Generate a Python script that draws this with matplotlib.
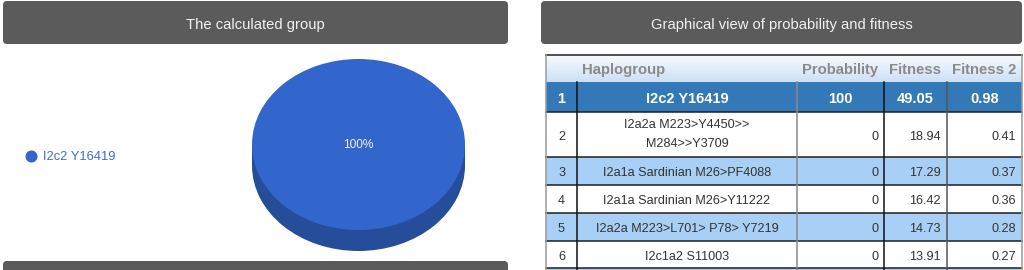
import matplotlib
matplotlib.use("Agg")
import matplotlib.pyplot as plt
import numpy as np
from matplotlib.patches import FancyBboxPatch, Rectangle

plt.rcParams['font.family'] = ['Liberation Sans', 'DejaVu Sans']

# ---------------- data ----------------
panel_titles = ["The calculated group", "Graphical view of probability and fitness"]
legend_labels = ["I2c2 Y16419"]
pie_values = [100]
columns = ["Haplogroup", "Probability", "Fitness", "Fitness 2"]
ranks = [1, 2, 3, 4, 5, 6]
haplogroups = ["I2c2 Y16419", "I2a2a M223>Y4450>>\nM284>>Y3709", "I2a1a Sardinian M26>PF4088",
               "I2a1a Sardinian M26>Y11222", "I2a2a M223>L701> P78> Y7219", "I2c1a2 S11003"]
probability = [100, 0, 0, 0, 0, 0]
fitness = [49.05, 18.94, 17.29, 16.42, 14.73, 13.91]
fitness2 = [0.98, 0.41, 0.37, 0.36, 0.28, 0.27]

# ---------------- styles ----------------
W, H = 1024, 270
HEAD_BG = "#5b5b5b"
PIE_TOP = "#3366cc"
PIE_SIDE = "#264d99"
ROW1_BG = "#3479b7"
ALT_BG = "#a8d0f6"
VA = "center_baseline"

fig = plt.figure(figsize=(W / 100, H / 100), dpi=100)
ax = fig.add_axes([0, 0, 1, 1])
ax.set_xlim(0, W)
ax.set_ylim(H, 0)
ax.axis("off")

# panel headers
for (x0, x1), title in zip([(3, 508), (541, 1022)], panel_titles):
    ax.add_patch(FancyBboxPatch((x0, 1), x1 - x0, 43, boxstyle="round,pad=0,rounding_size=4",
                                fc=HEAD_BG, ec="none"))
    ax.text((x0 + x1) / 2, 23, title, color="#f2f2f2", fontsize=10.6, ha="center", va=VA)

# bottom bar of left panel
ax.add_patch(FancyBboxPatch((3, 261), 505, 20, boxstyle="round,pad=0,rounding_size=4",
                            fc=HEAD_BG, ec="none"))

# legend
ax.scatter([31], [155.5], s=75, color=PIE_TOP, zorder=3, linewidths=0)
ax.text(43, 156, legend_labels[0], color="#3a6fcf", fontsize=9.3, ha="left", va=VA)

# ---------------- 3D pie ----------------
px0, px1, ptop, pbot = 252, 465, 59, 251
depth = 21 / 85.5
pax = fig.add_axes([px0 / W, (H - pbot) / H, (px1 - px0) / W, (pbot - ptop) / H])
pax.pie(pie_values, colors=[PIE_SIDE], center=(0, -depth), radius=1, startangle=90,
        counterclock=False, wedgeprops=dict(linewidth=0))
pax.add_patch(Rectangle((-1, -depth), 2, depth, fc=PIE_SIDE, ec="none"))
pax.pie(pie_values, colors=[PIE_TOP], center=(0, 0), radius=1, startangle=90, counterclock=False,
        autopct=lambda p: f"{p:.0f}%", pctdistance=0.0,
        textprops=dict(color="#f4f4f4", fontsize=8.6), wedgeprops=dict(linewidth=0))
pax.set_aspect("auto")
pax.set_xlim(-1, 1)
pax.set_ylim(-1 - depth, 1)
pax.axis("off")

# ---------------- table ----------------
col_x = [546, 577, 797, 884, 947, 1022]
row_y = [82, 112, 157, 185, 213, 241, 268]
tbl_top = 55

# header gradient
grad = np.linspace(0, 1, 64).reshape(-1, 1)
top_c = np.array([0.97, 0.985, 1.0])
bot_c = np.array([0.80, 0.88, 0.96])
img = top_c + (bot_c - top_c) * grad[..., None]
ax.imshow(img, extent=(col_x[0], col_x[-1], row_y[0], tbl_top), aspect="auto", zorder=1)
ax.set_xlim(0, W)
ax.set_ylim(H, 0)

hy = (tbl_top + row_y[0]) / 2
ax.text(col_x[1] + 5, hy, columns[0], color="#8a8a8a", fontsize=10.7, fontweight="bold",
        ha="left", va=VA, zorder=3)
for c, name in enumerate(columns[1:]):
    ax.text(col_x[c + 3] - 6, hy, name, color="#8a8a8a", fontsize=10.7, fontweight="bold",
            ha="right", va=VA, zorder=3)

row_bounds = list(zip(row_y[:-1], row_y[1:])) + [(row_y[-1], 290)]
for i, (y0, y1) in enumerate(row_bounds):
    if i == 0:
        bg = ROW1_BG
    elif i % 2 == 0:
        bg = ALT_BG
    else:
        bg = "white"
    ax.add_patch(Rectangle((col_x[0], y0), col_x[-1] - col_x[0], y1 - y0, fc=bg, ec="none", zorder=1))

for i, r in enumerate(ranks):
    y0, y1 = row_bounds[i]
    yc = (y0 + y1) / 2 + 0.5
    if i == 0:
        kw = dict(color="white", fontsize=10.5, fontweight="bold")
        ax.text((col_x[0] + col_x[1]) / 2, yc, str(r), ha="center", va=VA, zorder=3, **kw)
        ax.text((col_x[1] + col_x[2]) / 2, yc, haplogroups[i], ha="center", va=VA, zorder=3, **kw)
        for c, v in enumerate([probability[i], f"{fitness[i]:.2f}", f"{fitness2[i]:.2f}"]):
            ax.text((col_x[c + 2] + col_x[c + 3]) / 2, yc, str(v), ha="center", va=VA,
                    zorder=3, **kw)
    else:
        kw = dict(color="#333333", fontsize=9.1)
        ax.text((col_x[0] + col_x[1]) / 2, yc, str(r), ha="center", va=VA, zorder=3, **kw)
        if "\n" in haplogroups[i]:
            ax.text((col_x[1] + col_x[2]) / 2, yc - 0.5, haplogroups[i], ha="center", va="center",
                    linespacing=1.7, zorder=3, **kw)
        else:
            ax.text((col_x[1] + col_x[2]) / 2, yc, haplogroups[i], ha="center", va=VA,
                    zorder=3, **kw)
        for c, v in enumerate([probability[i], f"{fitness[i]:.2f}", f"{fitness2[i]:.2f}"]):
            ax.text(col_x[c + 3] - 6, yc, str(v), ha="right", va=VA, zorder=3, **kw)

# grid lines
lw = 1.1
ax.plot([col_x[0], col_x[-1]], [tbl_top, tbl_top], color="#222222", lw=lw, zorder=4)
for y in row_y[1:]:
    ax.plot([col_x[0], col_x[-1]], [y, y], color="#1e1e1e", lw=lw, zorder=4)
vcolors = ["#9a9a9a", "#111111", "#8a8a8a", "#111111", "#555555", "#9a9a9a"]
for x, vc in zip(col_x, vcolors):
    y_start = tbl_top if x in (col_x[0], col_x[-1]) else row_y[0]
    ax.plot([x, x], [y_start, 290], color=vc, lw=lw, zorder=4)

fig.savefig("out.png", dpi=100)
